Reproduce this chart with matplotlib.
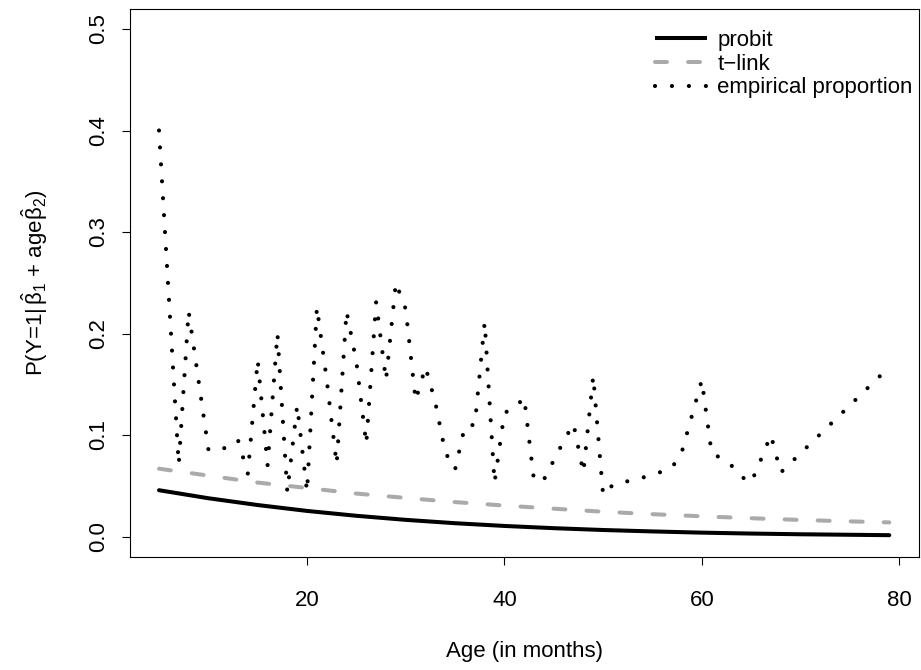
import matplotlib
matplotlib.use("Agg")
import matplotlib.pyplot as plt
from matplotlib.lines import Line2D

plt.rcParams['font.family'] = ['Liberation Sans', 'DejaVu Sans']
plt.rcParams['lines.scale_dashes'] = False
plt.rcParams['mathtext.fontset'] = 'custom'
plt.rcParams['mathtext.rm'] = 'Liberation Sans'
plt.rcParams['mathtext.it'] = 'Liberation Sans'
plt.rcParams['mathtext.bf'] = 'Liberation Sans:bold'

# ---- data ----
emp_age = [5, 6, 7, 8, 9, 10, 11, 12, 13, 14, 15, 16, 17, 18, 19, 20,
           21, 22, 23, 24, 25, 26, 27, 28, 29, 30, 31, 32, 33, 34, 35, 36,
           37, 38, 39, 40, 41, 42, 43, 44, 45, 46, 47, 48, 49, 50, 51, 52,
           53, 54, 55, 56, 57, 58, 59, 60, 61, 62, 63, 64, 65, 66, 67, 68, 79]
emp_prop = [0.400, 0.235, 0.071, 0.222, 0.154, 0.086, 0.084, 0.089, 0.095, 0.062,
            0.174, 0.070, 0.200, 0.044, 0.129, 0.044,
            0.226, 0.154, 0.071, 0.222, 0.172, 0.091, 0.231, 0.154, 0.250, 0.224,
            0.134, 0.167, 0.132, 0.083, 0.066, 0.109,
            0.110, 0.211, 0.053, 0.122, 0.126, 0.137, 0.055, 0.056, 0.075, 0.094,
            0.111, 0.063, 0.158, 0.041, 0.051, 0.053,
            0.056, 0.058, 0.061, 0.064, 0.068, 0.084, 0.119, 0.154, 0.082, 0.077,
            0.070, 0.059, 0.053, 0.076, 0.100, 0.063, 0.167]

fit_age = [5, 10, 15, 20, 25, 30, 35, 40, 45, 50, 55, 60, 65, 70, 75, 79]
probit_p = [0.0456, 0.0377, 0.0310, 0.0252, 0.0204, 0.0164, 0.0131, 0.0104,
            0.0082, 0.0064, 0.0050, 0.0038, 0.0029, 0.0022, 0.0017, 0.0013]
tlink_p = [0.0668, 0.0600, 0.0531, 0.0478, 0.0423, 0.0380, 0.0339, 0.0305,
           0.0274, 0.0244, 0.0220, 0.0199, 0.0180, 0.0163, 0.0149, 0.0139]

legend_labels = ["probit", "t\u2212link", "empirical proportion"]
x_ticks = [20, 40, 60, 80]
y_ticks = [0.0, 0.1, 0.2, 0.3, 0.4, 0.5]
y_ticklabels = ["0.0", "0.1", "0.2", "0.3", "0.4", "0.5"]

# ---- figure ----
W, H = 921, 670
fig = plt.figure(figsize=(W / 100, H / 100), dpi=100)
left, right, top, bottom = 129.8, 918.5, 8.7, 556.8
ax = fig.add_axes([left / W, 1 - bottom / H, (right - left) / W, (bottom - top) / H])

LW = 2.9
DOT_LW = 3.0
gray = "#AAAAAA"
dash_style = (0, (8.6, 15.2))
dot_style = (0, (0.01, 12.2))

ax.plot(fit_age, probit_p, color="black", lw=LW, solid_capstyle="round",
        solid_joinstyle="round")
ax.plot(fit_age, tlink_p, color=gray, lw=LW, linestyle=dash_style,
        dash_capstyle="round")
ax.plot(emp_age, emp_prop, color="black", lw=DOT_LW, linestyle=dot_style,
        dash_capstyle="round")

ax.set_xlim(2.04, 81.96)
ax.set_ylim(-0.02, 0.52)
ax.set_xticks(x_ticks)
ax.set_xticklabels([str(v) for v in x_ticks])
ax.set_yticks(y_ticks)
ax.set_yticklabels(y_ticklabels)

for sp in ax.spines.values():
    sp.set_linewidth(0.8)
    sp.set_color("black")

ax.tick_params(axis="both", direction="out", length=5.8, width=0.8,
               labelsize=16, colors="black")
ax.tick_params(axis="x", pad=18)
ax.tick_params(axis="y", pad=9, labelrotation=90)
for lab in ax.get_yticklabels():
    lab.set_va("center")

ax.set_xlabel("Age (in months)", fontsize=16)
ax.xaxis.label.set_va("center")
ax.xaxis.set_label_coords(0.5, (bottom - 652) / (bottom - top))

ax.set_ylabel(r"P(Y=1|$\,\hat{\beta}_1$ + age$\hat{\beta}_2$)", fontsize=16)
ax.yaxis.label.set_va("center")
ax.yaxis.set_label_coords((35 - left) / (right - left), 0.5)

handles = [
    Line2D([], [], color="black", lw=LW, solid_capstyle="butt"),
    Line2D([], [], color=gray, lw=LW, linestyle=dash_style, dash_capstyle="round"),
    Line2D([], [], color="black", lw=DOT_LW, linestyle=dot_style, dash_capstyle="round"),
]
ax.legend(handles, legend_labels, loc="upper left",
          bbox_to_anchor=(655 / W, 1 - 30 / H), bbox_transform=fig.transFigure,
          frameon=False, fontsize=16, handlelength=2.35, handletextpad=0.45,
          borderpad=0, borderaxespad=0, labelspacing=0.12)

fig.savefig("out.png", dpi=100)
